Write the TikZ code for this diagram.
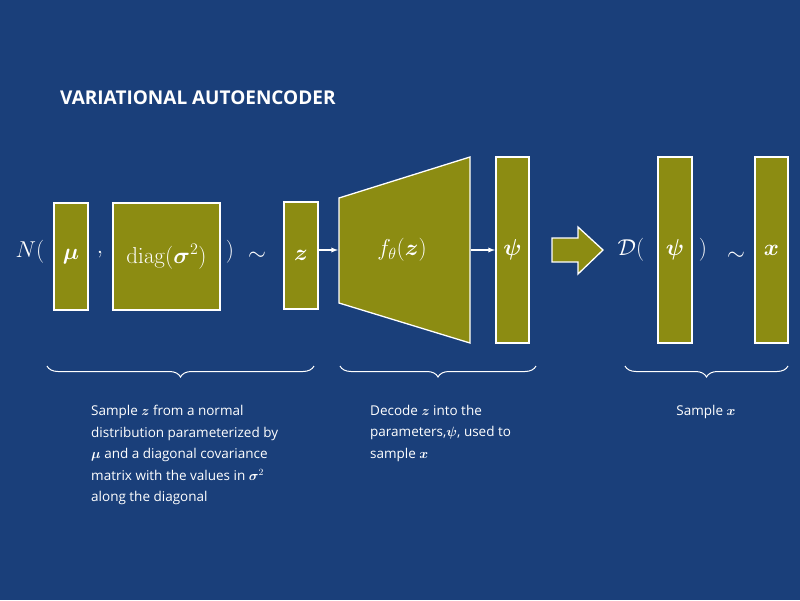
\documentclass[tikz,border=0pt]{standalone}
\usepackage{fix-cm}
\usepackage{amsmath,bm}
\usepackage[no-math]{fontspec}
\setmainfont{Open Sans}
\usetikzlibrary{decorations.pathreplacing}
\definecolor{bg}{HTML}{1A3F7A}
\definecolor{olive}{HTML}{8C8C12}
\begin{document}
\begin{tikzpicture}[x=1pt,y=-1pt,
  box/.style={fill=olive,draw=white,line width=1.3pt},
  mth/.style={text=white,font=\fontsize{23}{27}\selectfont,inner sep=0pt},
  con/.style={draw=white,line width=1.3pt,-latex},
  brc/.style={draw=white,line width=1pt,decorate,decoration={brace,amplitude=11pt,mirror}},
  captxt/.style={text=white,font=\fontsize{13.5}{21.5}\selectfont,align=left,anchor=north west,inner sep=0pt}]
\fill[bg] (0,0) rectangle (800,600);
\node[text=white,font=\bfseries\fontsize{19}{22}\selectfont,anchor=west,inner sep=0pt] (title) at (60,98) {VARIATIONAL AUTOENCODER};
\draw[box] (54,203) rectangle (88,310) node[midway,mth] (mu) {$\bm{\mu}$};
\draw[box] (113,203) rectangle (220,310) node[midway,mth] (dg) {$\mathrm{diag}(\bm{\sigma}^2)$};
\draw[box] (284,202) rectangle (318,309) node[midway,mth] (z) {$\bm{z}$};
\draw[box] (339,198) -- (470,157) -- (470,343) -- (339,303) -- cycle;
\node[mth] (f) at (402,250) {$f_\theta(\bm{z})$};
\draw[box] (496,157) rectangle (529,343) node[midway,mth] (psi) {$\bm{\psi}$};
\draw[box] (552,238) -- (578,238) -- (578,227) -- (603,250) -- (578,274) -- (578,262) -- (552,262) -- cycle;
\draw[box] (658,157) rectangle (692,343) node[midway,mth] (psi2) {$\bm{\psi}$};
\draw[box] (755,157) rectangle (788,343) node[midway,mth] (x) {$\bm{x}$};
\node[mth] (N) at (30,252) {$N($};
\node[mth] (c1) at (100,255) {$,$};
\node[mth] (p1) at (230,252) {$)$};
\node[mth] (t1) at (257,256) {$\sim$};
\node[mth] (D) at (631,250) {$\mathcal{D}($};
\node[mth] (p2) at (703,250) {$)$};
\node[mth] (t2) at (736,256) {$\sim$};
\coordinate (a1) at (319,250); \coordinate (a2) at (338,250);
\draw[con] (a1) -- (a2);
\coordinate (b1) at (471,250); \coordinate (b2) at (495,250);
\draw[con] (b1) -- (b2);
\coordinate (l1) at (47,366); \coordinate (r1) at (314,366);
\draw[brc] (l1) -- (r1);
\coordinate (l2) at (340,366); \coordinate (r2) at (536,366);
\draw[brc] (l2) -- (r2);
\coordinate (l3) at (625,366); \coordinate (r3) at (788,366);
\draw[brc] (l3) -- (r3);
\node[captxt] (t1c) at (91,405) {Sample $\bm{z}$ from a normal\\distribution parameterized by\\$\bm{\mu}$ and a diagonal covariance\\matrix with the values in $\bm{\sigma}^2$\\along the diagonal};
\node[captxt] (t2c) at (370,405) {Decode $\bm{z}$ into the\\parameters,$\bm{\psi}$, used to\\sample $\bm{x}$};
\node[captxt,anchor=north] (t3c) at (706,405) {Sample $\bm{x}$};
\end{tikzpicture}
\end{document}
